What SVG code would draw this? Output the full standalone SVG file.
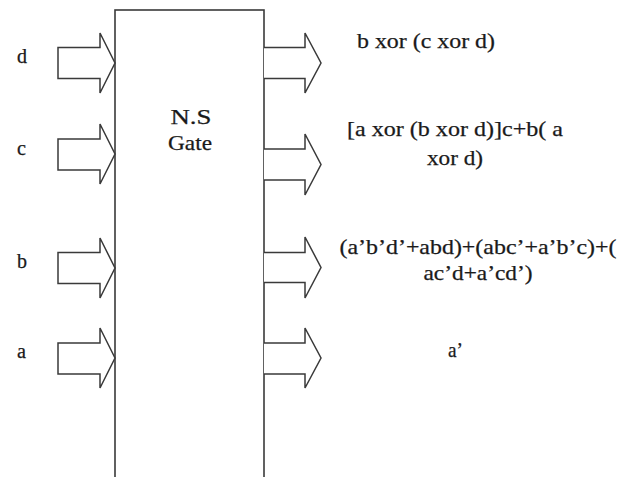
<svg xmlns="http://www.w3.org/2000/svg" width="627" height="477" viewBox="0 0 627 477">
<style>
.arrow{fill:#fff;stroke:#3a3a3a;stroke-width:1.5;stroke-linejoin:miter}
.box{fill:#fff;stroke:#3a3a3a;stroke-width:1.6}
text{font-family:"Liberation Serif","Times New Roman",serif;font-size:21px;fill:#1a1a1a;stroke:#1a1a1a;stroke-width:0.25}
.lbl{font-size:20px}
</style>
<rect width="627" height="477" fill="#fff"/>
<g id="gate">
<rect class="box" x="115" y="10" width="149" height="470"/>
<text x="191" y="124" text-anchor="middle" textLength="41" lengthAdjust="spacingAndGlyphs">N.S</text>
<text x="190" y="150" text-anchor="middle" textLength="44" lengthAdjust="spacingAndGlyphs">Gate</text>
</g>
<g id="connectors">
<path id="in-d" class="arrow" d="M58,47.5 H100 V33 L115,63 L100,93 V78.5 H58 Z"/>
<path id="in-c" class="arrow" d="M58,139 H100 V124 L115,154 L100,184 V170 H58 Z"/>
<path id="in-b" class="arrow" d="M58,252.5 H100 V238 L115,268 L100,298 V283.5 H58 Z"/>
<path id="in-a" class="arrow" d="M58,343 H100 V328 L115,358 L100,388 V374 H58 Z"/>
<path id="out-1" class="arrow" d="M264,47.5 H305 V33 L321,63 L305,93 V78.5 H264"/>
<path id="out-2" class="arrow" d="M264,149 H305 V134 L321,164.5 L305,195 V180 H264"/>
<path id="out-3" class="arrow" d="M264,252.5 H305 V237 L321,267.5 L305,298 V282.5 H264"/>
<path id="out-4" class="arrow" d="M264,343 H305 V328 L321,358 L305,388 V374 H264"/>
</g>
<g id="in-labels">
<text class="lbl" x="17" y="63" textLength="10" lengthAdjust="spacingAndGlyphs">d</text>
<text class="lbl" x="17" y="155" textLength="9" lengthAdjust="spacingAndGlyphs">c</text>
<text class="lbl" x="17" y="268" textLength="10" lengthAdjust="spacingAndGlyphs">b</text>
<text class="lbl" x="17" y="358" textLength="9" lengthAdjust="spacingAndGlyphs">a</text>
</g>
<g id="out-labels">
<text x="426" y="48" text-anchor="middle" textLength="138" lengthAdjust="spacingAndGlyphs">b xor (c xor d)</text>
<text x="455" y="136" text-anchor="middle" textLength="216" lengthAdjust="spacingAndGlyphs">[a xor (b xor d)]c+b( a</text>
<text x="455" y="165" text-anchor="middle" textLength="56" lengthAdjust="spacingAndGlyphs">xor d)</text>
<text x="478" y="254" text-anchor="middle" textLength="277" lengthAdjust="spacingAndGlyphs">(a’b’d’+abd)+(abc’+a’b’c)+(</text>
<text x="478" y="280" text-anchor="middle" textLength="109" lengthAdjust="spacingAndGlyphs">ac’d+a’cd’)</text>
<text x="448" y="357" textLength="15" lengthAdjust="spacingAndGlyphs">a’</text>
</g>
</svg>
